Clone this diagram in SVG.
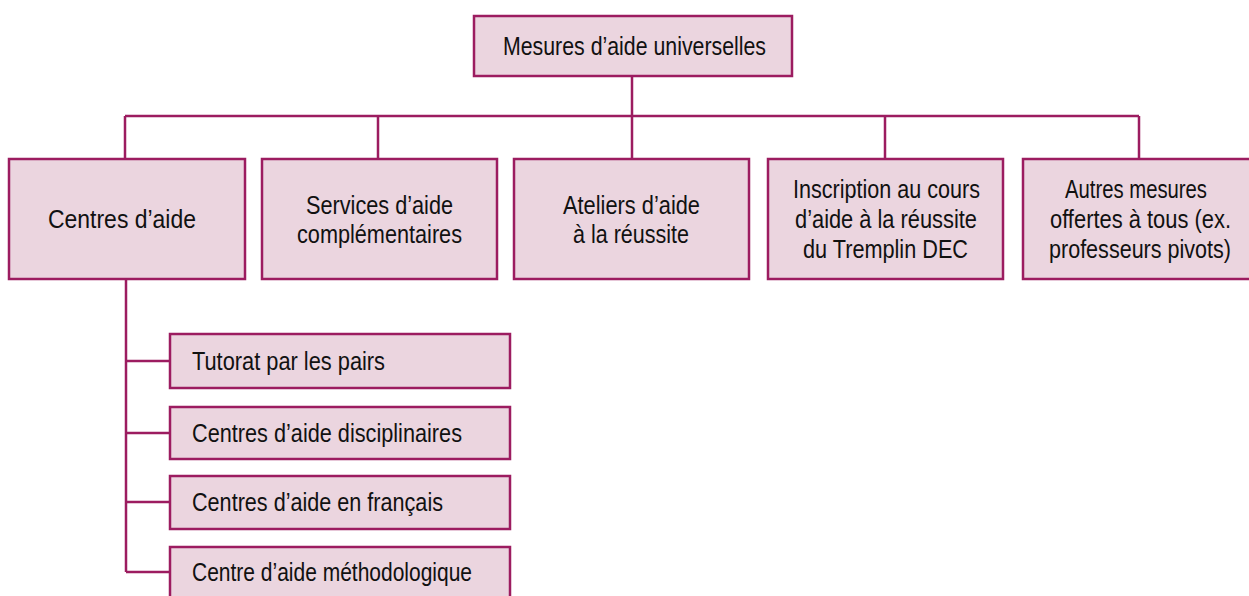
<svg xmlns="http://www.w3.org/2000/svg" width="1249" height="596" viewBox="0 0 1249 596">
<style>
.box{fill:#ebd5df;stroke:#9c1c60;stroke-width:2.5}
.conn{fill:none;stroke:#9c1c60;stroke-width:2.5}
text{font-family:"Liberation Sans Narrow","Liberation Sans",Arial,sans-serif;font-size:25px;fill:#111}
</style>
<rect width="1249" height="596" fill="#ffffff"/>
<g id="connectors">
<path class="conn" d="M632,76 V116 M125,116 H1139 M125,116 V159 M378,116 V159 M632,116 V159 M885,116 V159 M1139,116 V159"/>
<path class="conn" d="M126,279 V572 M126,361 H170 M126,433 H170 M126,502 H170 M126,572 H170"/>
</g>
<g id="n-root"><rect class="box" x="474" y="16" width="318" height="60"/><text x="503" y="55" textLength="263" lengthAdjust="spacingAndGlyphs">Mesures d’aide universelles</text></g>
<g id="n-centres"><rect class="box" x="9" y="159" width="236" height="120"/><text x="48" y="228" textLength="148" lengthAdjust="spacingAndGlyphs">Centres d’aide</text></g>
<g id="n-services"><rect class="box" x="262" y="159" width="235" height="120"/><text x="306" y="214" textLength="147" lengthAdjust="spacingAndGlyphs">Services d’aide</text><text x="297" y="243" textLength="165" lengthAdjust="spacingAndGlyphs">complémentaires</text></g>
<g id="n-ateliers"><rect class="box" x="514" y="159" width="235" height="120"/><text x="563" y="214" textLength="137" lengthAdjust="spacingAndGlyphs">Ateliers d’aide</text><text x="573" y="243" textLength="116" lengthAdjust="spacingAndGlyphs">à la réussite</text></g>
<g id="n-inscription"><rect class="box" x="768" y="159" width="235" height="120"/><text x="793" y="198" textLength="187" lengthAdjust="spacingAndGlyphs">Inscription au cours</text><text x="795" y="228" textLength="182" lengthAdjust="spacingAndGlyphs">d’aide à la réussite</text><text x="803" y="258" textLength="165" lengthAdjust="spacingAndGlyphs">du Tremplin DEC</text></g>
<g id="n-autres"><rect class="box" x="1023" y="159" width="228" height="120"/><text x="1065" y="198" textLength="142" lengthAdjust="spacingAndGlyphs">Autres mesures</text><text x="1050" y="228" textLength="181" lengthAdjust="spacingAndGlyphs">offertes à tous (ex.</text><text x="1049" y="258" textLength="182" lengthAdjust="spacingAndGlyphs">professeurs pivots)</text></g>
<g id="n-tutorat"><rect class="box" x="170" y="334" width="340" height="54"/><text x="192" y="370" textLength="193" lengthAdjust="spacingAndGlyphs">Tutorat par les pairs</text></g>
<g id="n-disciplinaires"><rect class="box" x="170" y="407" width="340" height="52"/><text x="192" y="442" textLength="270" lengthAdjust="spacingAndGlyphs">Centres d’aide disciplinaires</text></g>
<g id="n-francais"><rect class="box" x="170" y="476" width="340" height="53"/><text x="192" y="511" textLength="251" lengthAdjust="spacingAndGlyphs">Centres d’aide en français</text></g>
<g id="n-methodo"><rect class="box" x="170" y="547" width="340" height="53"/><text x="192" y="581" textLength="280" lengthAdjust="spacingAndGlyphs">Centre d’aide méthodologique</text></g>
</svg>
